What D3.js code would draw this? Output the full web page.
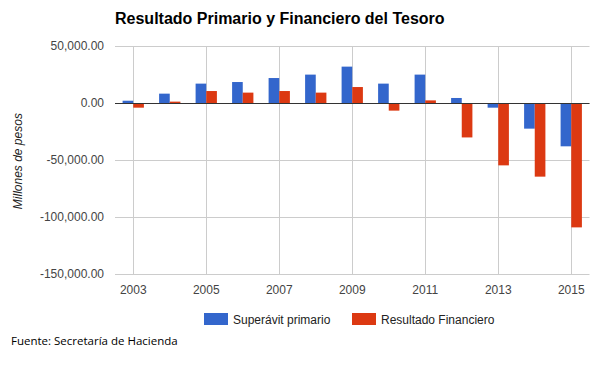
<!DOCTYPE html>
<html>
<head>
<meta charset="utf-8">
<script src="https://cdn.jsdelivr.net/npm/d3@7"></script>
<style>
  body { margin: 0; background: #fff; }
  svg { display: block; }
</style>
</head>
<body>
<svg id="chart" width="600" height="371"></svg>
<script>
// values (millones de pesos)
var years = [2003, 2004, 2005, 2006, 2007, 2008, 2009, 2010, 2011, 2012, 2013, 2014, 2015];
var superavitPrimario = [2000, 8200, 17000, 18400, 21900, 24900, 31900, 17000, 24900, 4400, -4100, -22500, -38000];
var resultadoFinanciero = [-4100, 1200, 10500, 9100, 10500, 9100, 14000, -6700, 2300, -30200, -54700, -64600, -109100];
var seriesNames = ['Superávit primario', 'Resultado Financiero'];
var seriesColors = ['#3366cc', '#dc3912'];
var yTicks = [50000, 0, -50000, -100000, -150000];
var xTickYears = [2003, 2005, 2007, 2009, 2011, 2013, 2015];

var svg = d3.select('#chart');
var margin = {left: 115, right: 10.5, top: 46, bottom: 97};
var width = 600 - margin.left - margin.right;
var height = 371 - margin.top - margin.bottom;

var fmt = d3.formatLocale({decimal: '.', thousands: ',', grouping: [3], currency: ['$', ''], minus: '-'}).format(',.2f');

var x = d3.scaleBand().domain(years).range([0, width]).padding(0);
var x1 = d3.scaleBand().domain(seriesNames).range([0, x.bandwidth()]).paddingInner(0).paddingOuter(0.714);
var y = d3.scaleLinear().domain([-150000, 50000]).range([height, 0]);

var g = svg.append('g').attr('transform', 'translate(' + margin.left + ',' + margin.top + ')');

// title
svg.append('text')
  .attr('x', margin.left)
  .attr('y', 24)
  .style('font-family', 'Liberation Sans, Arial, sans-serif')
  .style('font-size', '16px')
  .style('font-weight', 'bold')
  .attr('fill', '#000')
  .text('Resultado Primario y Financiero del Tesoro');

// horizontal gridlines + labels
g.selectAll('.hgrid').data(yTicks).enter().append('line')
  .attr('x1', 0).attr('x2', width)
  .attr('y1', function(d) { return Math.round(y(d)) + 0.5; })
  .attr('y2', function(d) { return Math.round(y(d)) + 0.5; })
  .attr('stroke', '#cccccc').attr('stroke-width', 1);

g.selectAll('.ylab').data(yTicks).enter().append('text')
  .attr('x', -11)
  .attr('y', function(d) { return y(d) + 4; })
  .attr('text-anchor', 'end')
  .style('font-family', 'Liberation Sans, Arial, sans-serif')
  .style('font-size', '12px')
  .attr('fill', '#444')
  .text(function(d) { return fmt(d); });

// vertical gridlines at labelled years
g.selectAll('.vgrid').data(xTickYears).enter().append('line')
  .attr('x1', function(d) { return Math.round(x(d) + x.bandwidth() / 2) + 0.5; })
  .attr('x2', function(d) { return Math.round(x(d) + x.bandwidth() / 2) + 0.5; })
  .attr('y1', 0).attr('y2', height)
  .attr('stroke', '#cccccc').attr('stroke-width', 1);

g.selectAll('.xlab').data(xTickYears).enter().append('text')
  .attr('x', function(d) { return x(d) + x.bandwidth() / 2; })
  .attr('y', height + 20)
  .attr('text-anchor', 'middle')
  .style('font-family', 'Liberation Sans, Arial, sans-serif')
  .style('font-size', '12px')
  .attr('fill', '#444')
  .text(function(d) { return d; });

// bars
var seriesData = [superavitPrimario, resultadoFinanciero];
seriesNames.forEach(function(name, si) {
  g.selectAll('.bar' + si).data(years).enter().append('rect')
    .attr('x', function(d) { return x(d) + x1(name); })
    .attr('width', x1.bandwidth())
    .attr('y', function(d, i) { return y(Math.max(0, seriesData[si][i])); })
    .attr('height', function(d, i) { return Math.abs(y(seriesData[si][i]) - y(0)); })
    .attr('fill', seriesColors[si]);
});

// zero baseline
g.append('line')
  .attr('x1', 0).attr('x2', width)
  .attr('y1', Math.round(y(0)) + 0.5).attr('y2', Math.round(y(0)) + 0.5)
  .attr('stroke', '#333').attr('stroke-width', 1);

// y axis title
svg.append('text')
  .attr('transform', 'translate(22,' + (margin.top + y(-51000)) + ') rotate(-90)')
  .attr('text-anchor', 'middle')
  .style('font-family', 'Liberation Sans, Arial, sans-serif')
  .style('font-size', '12px')
  .style('font-style', 'italic')
  .attr('fill', '#222')
  .text('Millones de pesos');

// legend
var legendX = [204, 352];
seriesNames.forEach(function(name, i) {
  svg.append('rect')
    .attr('x', legendX[i]).attr('y', 313)
    .attr('width', 24).attr('height', 12)
    .attr('fill', seriesColors[i]);
  svg.append('text')
    .attr('x', legendX[i] + 29).attr('y', 323.5)
    .style('font-family', 'Liberation Sans, Arial, sans-serif')
    .style('font-size', '12px')
    .attr('fill', '#222')
    .text(name);
});

// source note
svg.append('text')
  .attr('x', 11).attr('y', 345)
  .style('font-family', 'Open Sans, sans-serif')
  .style('font-size', '11.5px')
  .attr('fill', '#000')
  .text('Fuente: Secretaría de Hacienda');
</script>
</body>
</html>
